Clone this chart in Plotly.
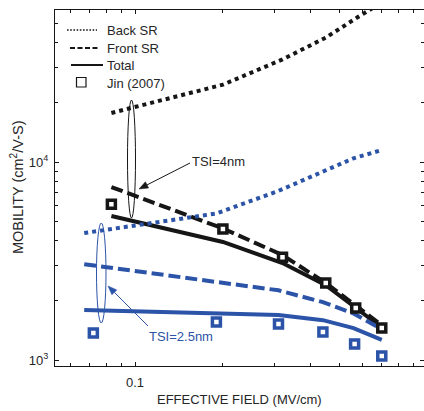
import math
import plotly.graph_objects as go

# Effective field (MV/cm) and mobility (cm^2/V-s), TSI = 4 nm
field_4nm = [0.083, 0.2, 0.32, 0.45, 0.58, 0.70]
back_sr_4nm = [17700, 24600, 33000, 42500, 54000, 64000]
front_sr_4nm = [7480, 4620, 3390, 2450, 1850, 1500]
total_4nm = [5340, 3950, 3090, 2390, 1800, 1460]

# TSI = 2.5 nm
field_25nm = [0.067, 0.19, 0.31, 0.44, 0.56, 0.70]
back_sr_25nm = [4380, 5500, 7150, 8900, 10450, 11500]
front_sr_25nm = [3050, 2470, 2250, 1960, 1720, 1430]
total_25nm = [1790, 1725, 1690, 1590, 1450, 1265]

# Jin (2007) measurements
jin_field_4nm = [0.083, 0.2, 0.32, 0.45, 0.57, 0.70]
jin_mu_4nm = [6130, 4590, 3310, 2450, 1830, 1450]
jin_field_25nm = [0.072, 0.19, 0.31, 0.44, 0.565, 0.70]
jin_mu_25nm = [1370, 1555, 1520, 1385, 1205, 1047]

x_tickvals = [0.1]
x_ticktext = ["0.1"]
y_tickvals = [1000, 10000]
y_ticktext = ["10<sup>3</sup>", "10<sup>4</sup>"]

BLACK = "#161616"
BLUE = "#2b53a7"
FONT = "Liberation Sans, Arial, sans-serif"
TEXT = "#262626"

W, H = 424, 411
ML, MR, MT, MB = 55, 0, 10, 45
PW, PH = W - ML - MR, H - MT - MB


def px(x):
    return (x - ML) / PW


def py(y):
    return (H - MB - y) / PH


fig = go.Figure()

DOT = "4px,4px"
DASH = "12px,5px"

for xs, ys, color, dash in [
    (field_4nm, back_sr_4nm, BLACK, DOT),
    (field_4nm, front_sr_4nm, BLACK, DASH),
    (field_4nm, total_4nm, BLACK, "solid"),
    (field_25nm, back_sr_25nm, BLUE, DOT),
    (field_25nm, front_sr_25nm, BLUE, DASH),
    (field_25nm, total_25nm, BLUE, "solid"),
]:
    fig.add_trace(go.Scatter(x=xs, y=ys, mode="lines",
                             line=dict(color=color, width=4, dash=dash),
                             showlegend=False, hoverinfo="skip"))

for xs, ys, color in [(jin_field_4nm, jin_mu_4nm, BLACK),
                      (jin_field_25nm, jin_mu_25nm, BLUE)]:
    fig.add_trace(go.Scatter(x=xs, y=ys, mode="markers",
                             marker=dict(symbol="square", size=8, color="white",
                                         line=dict(color=color, width=3.5)),
                             showlegend=False, hoverinfo="skip"))

shapes = []
annotations = []

# legend drawn by hand in the upper-left corner
legend_rows = [("Back SR", 30), ("Front SR", 48), ("Total", 65), ("Jin (2007)", 83)]
shapes.append(dict(type="line", xref="paper", yref="paper", x0=px(67), x1=px(97),
                   y0=py(30), y1=py(30), line=dict(color=BLACK, width=1.6, dash="1.6px,1.6px")))
shapes.append(dict(type="line", xref="paper", yref="paper", x0=px(70), x1=px(98),
                   y0=py(48), y1=py(48), line=dict(color=BLACK, width=2, dash="5px,2.5px")))
shapes.append(dict(type="line", xref="paper", yref="paper", x0=px(71), x1=px(103),
                   y0=py(65), y1=py(65), line=dict(color=BLACK, width=2)))
shapes.append(dict(type="rect", xref="paper", yref="paper", x0=px(76.5), x1=px(86),
                   y0=py(77.5), y1=py(87), line=dict(color=BLACK, width=1.2)))
for label, yy in legend_rows:
    annotations.append(dict(text=label, xref="paper", yref="paper", x=px(104.5), y=py(yy),
                            xanchor="left", yanchor="middle", showarrow=False,
                            font=dict(family=FONT, size=13, color=TEXT)))

# ellipses grouping the curves of each thickness
shapes.append(dict(type="circle", xref="paper", yref="paper", x0=px(127.5), x1=px(135.5),
                   y0=py(100), y1=py(218), line=dict(color=BLACK, width=1)))
shapes.append(dict(type="circle", xref="paper", yref="paper", x0=px(96.5), x1=px(106),
                   y0=py(223), y1=py(323), line=dict(color=BLUE, width=1)))


def arrow(tail, head, color, length=9.0, half=3.5):
    """Thin line from tail to head (pixel coords) with a filled triangular tip."""
    (tx, ty), (hx, hy) = tail, head
    dx, dy = hx - tx, hy - ty
    n = math.hypot(dx, dy)
    ux, uy = dx / n, dy / n
    bx, by = hx - ux * length, hy - uy * length
    lx, ly = bx - uy * half, by + ux * half
    rx, ry = bx + uy * half, by - ux * half
    out = [dict(type="line", xref="paper", yref="paper",
                x0=px(tx), y0=py(ty), x1=px(bx), y1=py(by),
                line=dict(color=color, width=1))]
    path = (f"M {px(hx)} {py(hy)} L {px(lx)} {py(ly)} "
            f"L {px(rx)} {py(ry)} Z")
    out.append(dict(type="path", xref="paper", yref="paper", path=path,
                    fillcolor=color, line=dict(color=color, width=0.5)))
    return out


# arrows and thickness labels
shapes += arrow((190, 163), (139, 189), BLACK)
shapes += arrow((148, 326), (108, 286), BLUE)
annotations.append(dict(text="TSI=4nm", xref="paper", yref="paper", x=px(190), y=py(161),
                        xanchor="left", yanchor="middle", showarrow=False,
                        font=dict(family=FONT, size=13, color=TEXT)))
annotations.append(dict(text="TSI=2.5nm", xref="paper", yref="paper", x=px(147), y=py(336),
                        xanchor="left", yanchor="middle", showarrow=False,
                        font=dict(family=FONT, size=13, color=BLUE)))

# axis titles
annotations.append(dict(text="EFFECTIVE FIELD (MV/cm)", xref="paper", yref="paper",
                        x=px(240), y=py(400), xanchor="center", yanchor="middle",
                        showarrow=False, font=dict(family=FONT, size=13, color=TEXT)))
annotations.append(dict(text="MOBILITY (cm<sup>2</sup>/V-S)", xref="paper", yref="paper",
                        x=px(17), y=py(188), xanchor="center", yanchor="middle",
                        textangle=-90, showarrow=False,
                        font=dict(family=FONT, size=14.5, color=TEXT)))

fig.update_layout(
    width=W, height=H,
    margin=dict(l=ML, r=MR, t=MT, b=MB),
    paper_bgcolor="white", plot_bgcolor="white",
    shapes=shapes, annotations=annotations,
    showlegend=False,
    font=dict(family=FONT, size=13, color=TEXT),
)

fig.update_xaxes(
    type="log", range=[-1.274, -0.0103],
    showgrid=False, zeroline=False,
    showline=True, linecolor=BLACK, linewidth=1, mirror="ticks",
    ticks="inside", ticklen=4, tickcolor=BLACK,
    tickvals=x_tickvals, ticktext=x_ticktext,
    ticklabelstandoff=4,
    minor=dict(ticks="inside", ticklen=3, tickcolor=BLACK,
               tickvals=[0.06, 0.07, 0.08, 0.09, 0.2, 0.3, 0.4, 0.5, 0.6, 0.7, 0.8, 0.9],
               showgrid=False),
)
fig.update_yaxes(
    type="log", range=[2.970, 4.768],
    showgrid=False, zeroline=False,
    showline=True, linecolor=BLACK, linewidth=1, mirror="ticks",
    ticks="inside", ticklen=4, tickcolor=BLACK,
    tickvals=y_tickvals, ticktext=y_ticktext,
    ticklabelstandoff=3,
    minor=dict(ticks="inside", ticklen=3, tickcolor=BLACK,
               tickvals=[2000, 3000, 4000, 5000, 6000, 7000, 8000, 9000,
                         20000, 30000, 40000, 50000],
               showgrid=False),
)

fig.write_html("out.html")
